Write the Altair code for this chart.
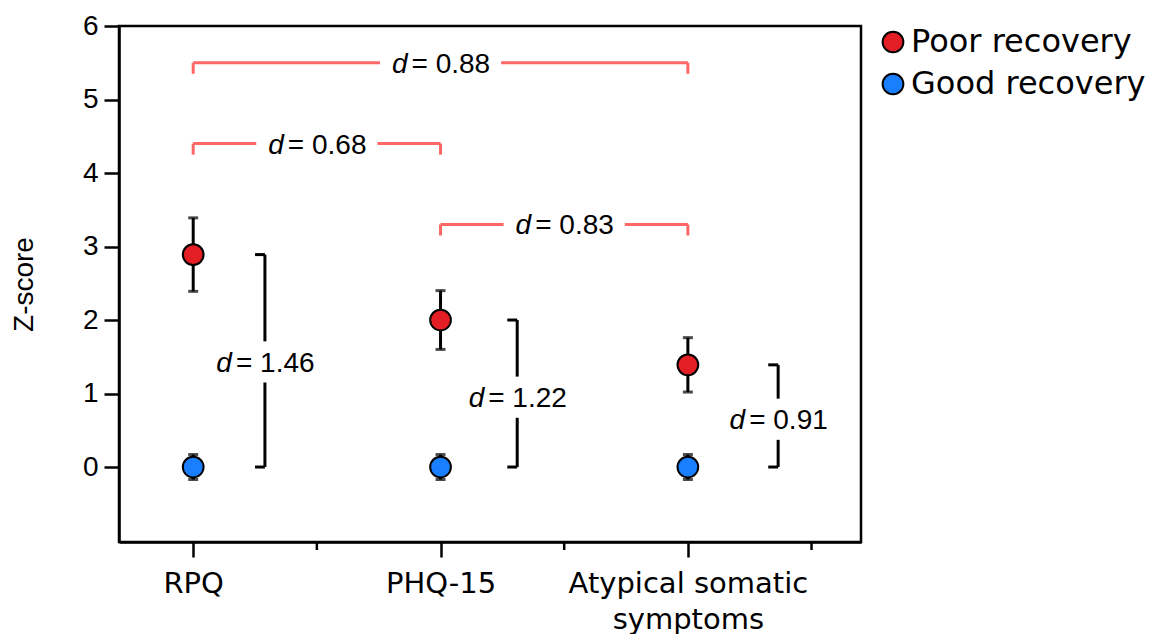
import altair as alt
import pandas as pd

# ---- data ----
categories = ["RPQ", "PHQ-15", "Atypical somatic symptoms"]
cat_pos = [0, 1, 2]
minor_pos = [0.5, 1.5, 2.5]
groups = ["Poor recovery", "Good recovery"]
poor_mean = [2.89, 2.00, 1.39]
poor_err = [0.50, 0.40, 0.37]
good_mean = [0.0, 0.0, 0.0]
good_err = [0.17, 0.17, 0.17]
colors = ["#E31E24", "#1A7FFF"]

# between-measure comparisons (red, horizontal)
red_x1 = [0, 0, 1]
red_x2 = [2, 1, 2]
red_y = [5.5, 4.4, 3.3]
red_d = ["0.88", "0.68", "0.83"]

# within-measure comparisons (black, vertical)
blk_x = [0.29, 1.31, 2.365]
blk_top = [2.89, 2.00, 1.39]
blk_bot = [0.0, 0.0, 0.0]
blk_text_y = [1.43, 0.95, 0.65]
blk_d = ["1.46", "1.22", "0.91"]

RED = "#FF6666"
GAP_H = 0.245   # half gap (x units) in red brackets around text
GAP_V = 0.28    # half gap (y units) in black brackets around text
RED_DROP = 0.15
BLK_END = 0.04

# ---- tables ----
pts = pd.DataFrame({
    "x": cat_pos * 2,
    "group": [groups[0]] * 3 + [groups[1]] * 3,
    "m": poor_mean + good_mean,
    "e": poor_err + good_err,
})
pts["lo"] = pts["m"] - pts["e"]
pts["hi"] = pts["m"] + pts["e"]
caps = pd.concat([pts[["x"]].assign(y=pts["lo"]), pts[["x"]].assign(y=pts["hi"])])

red_seg = []
red_end = []
red_txt = []
for a, b, y, d in zip(red_x1, red_x2, red_y, red_d):
    c = (a + b) / 2
    red_seg += [{"x": a, "x2": c - GAP_H, "y": y}, {"x": c + GAP_H, "x2": b, "y": y}]
    red_end += [{"x": a, "y": y, "y2": y - RED_DROP}, {"x": b, "y": y, "y2": y - RED_DROP}]
    red_txt.append({"x": c, "y": y, "d": "= " + d})
red_seg = pd.DataFrame(red_seg)
red_end = pd.DataFrame(red_end)
red_txt = pd.DataFrame(red_txt)

blk_seg = []
blk_end = []
blk_txt = []
for x, t, bt, ty, d in zip(blk_x, blk_top, blk_bot, blk_text_y, blk_d):
    blk_seg += [{"x": x, "y": t, "y2": ty + GAP_V}, {"x": x, "y": ty - GAP_V, "y2": bt}]
    blk_end += [{"x": x - BLK_END, "x2": x, "y": t}, {"x": x - BLK_END, "x2": x, "y": bt}]
    blk_txt.append({"x": x, "y": ty, "d": "= " + d})
blk_seg = pd.DataFrame(blk_seg)
blk_end = pd.DataFrame(blk_end)
blk_txt = pd.DataFrame(blk_txt)
txt_all = pd.concat([red_txt, blk_txt])
minor = pd.DataFrame({"x": minor_pos})

# ---- scales / axes ----
label_expr = (
    f"datum.value == 0 ? '{categories[0]}' : datum.value == 1 ? '{categories[1]}' : "
    f"['Atypical somatic', 'symptoms']"
)
xs = alt.Scale(domain=[-0.3, 2.7], nice=False, zero=False)
ys = alt.Scale(domain=[-1.02, 6], nice=False, zero=False)
x_axis = alt.Axis(values=cat_pos, labelExpr=label_expr, title=None, grid=False,
                  tickSize=15, tickWidth=2.5, tickColor="black", domainColor="black",
                  domainWidth=2.5, labelFont="DejaVu Sans", labelFontSize=29,
                  labelColor="black", labelPadding=12, labelLineHeight=36,
                  labelLimit=0)
y_axis = alt.Axis(values=[0, 1, 2, 3, 4, 5, 6], title="Z-score", grid=False,
                  tickSize=15, tickWidth=2.5, tickColor="black", domainColor="black",
                  domainWidth=2.5, labelFont="Liberation Sans", labelFontSize=28,
                  labelColor="black", labelPadding=6, titleFont="Liberation Sans",
                  titleFontSize=28, titleFontWeight="normal", titleColor="black",
                  titlePadding=44)

X = lambda f="x": alt.X(f"{f}:Q", scale=xs, axis=x_axis)
Y = lambda f="y": alt.Y(f"{f}:Q", scale=ys, axis=y_axis)

err = alt.Chart(pts).mark_rule(color="black", strokeWidth=3).encode(
    x=X(), y=Y("lo"), y2="hi")
cap = alt.Chart(caps).mark_tick(color="black", orient="horizontal", size=10,
                                thickness=3).encode(x=X(), y=Y())
dots = alt.Chart(pts).mark_point(filled=True, size=430, stroke="black", strokeWidth=2,
                                 opacity=1, shape="circle").encode(
    x=X(), y=Y("m"),
    color=alt.Color("group:N", scale=alt.Scale(domain=groups, range=colors),
                    legend=alt.Legend(orient="none", legendX=758, legendY=0, title=None,
                                      labelFont="DejaVu Sans", labelFontSize=32,
                                      labelColor="black", symbolType="circle",
                                      symbolSize=430, symbolStrokeColor="black",
                                      symbolStrokeWidth=2, symbolOpacity=1,
                                      rowPadding=10, labelOffset=2, padding=0,
                                      labelLimit=0)))

r_seg = alt.Chart(red_seg).mark_rule(color=RED, strokeWidth=3).encode(x=X(), x2="x2", y=Y())
r_end = alt.Chart(red_end).mark_rule(color=RED, strokeWidth=3).encode(x=X(), y=Y(), y2="y2")
b_seg = alt.Chart(blk_seg).mark_rule(color="black", strokeWidth=3).encode(x=X(), y=Y(), y2="y2")
b_end = alt.Chart(blk_end).mark_rule(color="black", strokeWidth=3).encode(x=X(), x2="x2", y=Y())

t_d = alt.Chart(txt_all).mark_text(text="d", font="Liberation Sans", fontStyle="italic",
                                   fontSize=28, align="right", baseline="middle",
                                   dx=-33, dy=2, color="black").encode(x=X(), y=Y())
t_v = alt.Chart(txt_all).mark_text(font="Liberation Sans", fontSize=28, align="left",
                                   baseline="middle", dx=-29, dy=2, color="black").encode(
    x=X(), y=Y(), text="d:N")

mtick = alt.Chart(minor).mark_rule(color="black", strokeWidth=2.5).encode(
    x=X(), y=alt.value(516), y2=alt.value(524))

chart = alt.layer(r_seg, r_end, b_seg, b_end, t_d, t_v, mtick, err, cap, dots).properties(
    width=742, height=516,
    autosize=alt.AutoSizeParams(type="none"),
    padding={"left": 111, "top": 18, "right": 284, "bottom": 92},
).configure_view(stroke="black", strokeWidth=2.5)

chart.save("out.html", embed_options={"renderer": "svg", "actions": False})
